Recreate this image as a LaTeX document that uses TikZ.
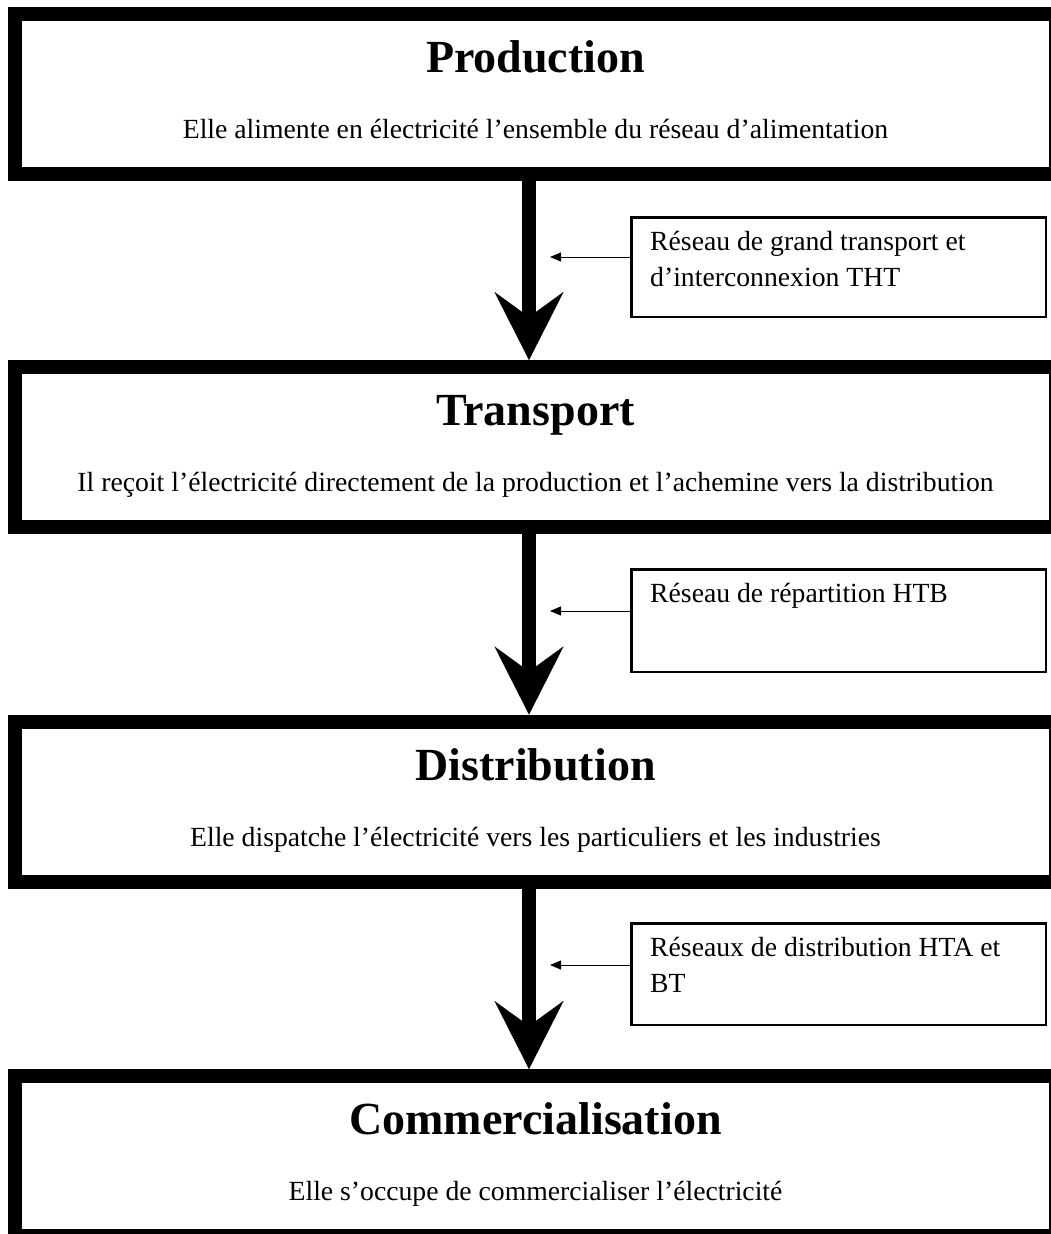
\documentclass[tikz,border=0pt]{standalone}
\usepackage{fontspec}
\setmainfont{Liberation Serif}
\usetikzlibrary{arrows.meta,calc}
\begin{document}
\begin{tikzpicture}[x=1pt,y=-1pt,
  bigbox/.style={draw=black,line width=14pt,minimum width=1041pt,minimum height=160pt,inner sep=0pt,fill=white},
  smallbox/.style={draw=black,line width=2.5pt,minimum width=414.5pt,inner sep=0pt,fill=white},
  titletext/.style={anchor=base,inner sep=0pt,font=\bfseries\fontsize{46}{50}\selectfont},
  bodytext/.style={anchor=base,inner sep=0pt,font=\fontsize{27.7}{36}\selectfont},
  labeltext/.style={anchor=base west,inner sep=0pt,font=\fontsize{27.7}{36}\selectfont},
  flow/.style={line width=14pt,-{Stealth[length=68pt,width=69pt,inset=25pt,line width=0.01pt]}},
  feed/.style={line width=1pt,-{Triangle[length=11pt,width=9pt]}}]
\useasboundingbox (0,0) rectangle (1051,1234);
\clip (0,0) rectangle (1051,1234);
\fill[white] (0,0) rectangle (1051,1234);

% main boxes
\node[bigbox] (prod) at (535.5,94) {};
\node[bigbox] (trans) at (535.5,447) {};
\node[bigbox] (dist) at (535.5,801.5) {};
\node[bigbox] (comm) at (535.5,1156) {};

\node[titletext] (prodT) at (535.5,72) {Production};
\node[bodytext] (prodB) at (535.5,138) {Elle alimente en électricité l’ensemble du réseau d’alimentation};
\node[titletext] (transT) at (535.5,425) {Transport};
\node[bodytext] (transB) at (535.5,491) {Il reçoit l’électricité directement de la production et l’achemine vers la distribution};
\node[titletext] (distT) at (535.5,780) {Distribution};
\node[bodytext] (distB) at (535.5,846) {Elle dispatche l’électricité vers les particuliers et les industries};
\node[titletext] (commT) at (535.5,1134) {Commercialisation};
\node[bodytext] (commB) at (535.5,1200) {Elle s’occupe de commercialiser l’électricité};

% side boxes
\node[smallbox,minimum height=99.5pt] (netA) at (838.5,267) {};
\node[smallbox,minimum height=102.5pt] (netB) at (838.5,620.5) {};
\node[smallbox,minimum height=101.5pt] (netC) at (838.5,974) {};

\node[labeltext] (netA1) at (650,250) {Réseau de grand transport et};
\node[labeltext] (netA2) at (650,286) {d’interconnexion THT};
\node[labeltext] (netB1) at (650,602) {Réseau de répartition HTB};
\node[labeltext] (netC1) at (650,956) {Réseaux de distribution HTA et};
\node[labeltext] (netC2) at (650,992) {BT};

% flow arrows
\coordinate (ax) at (529,0);
\draw[flow] (prod.south -| ax) -- (trans.north -| ax);
\draw[flow] (trans.south -| ax) -- (dist.north -| ax);
\draw[flow] (dist.south -| ax) -- (comm.north -| ax);

% feed arrows
\coordinate (tipA) at (550,257);
\coordinate (tipB) at (550,611);
\coordinate (tipC) at (550,965);
\draw[feed] (netA.west |- tipA) -- (tipA);
\draw[feed] (netB.west |- tipB) -- (tipB);
\draw[feed] (netC.west |- tipC) -- (tipC);
\end{tikzpicture}
\end{document}
